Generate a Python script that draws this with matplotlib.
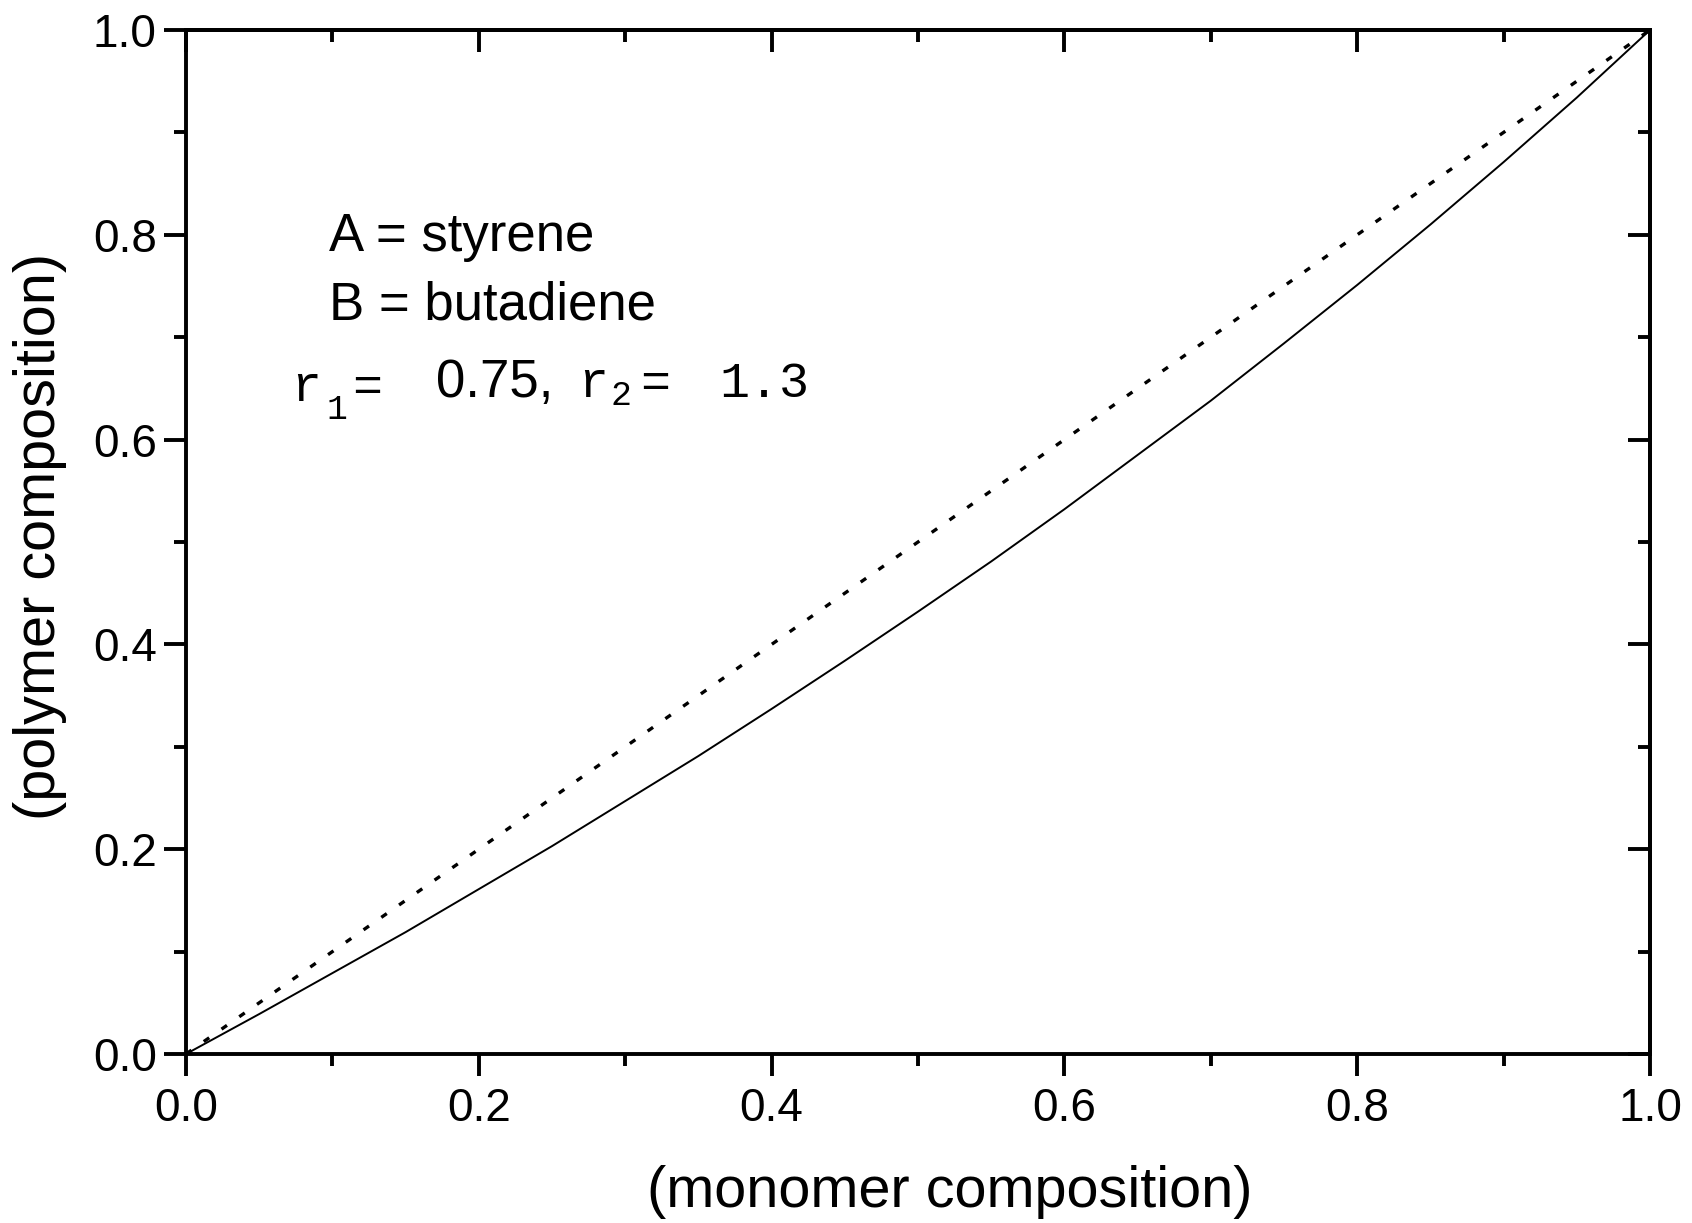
import numpy as np
import matplotlib
matplotlib.use("Agg")
import matplotlib.pyplot as plt

# values
monomer = [0.0, 0.05, 0.1, 0.15, 0.2, 0.25, 0.3, 0.35, 0.4, 0.45, 0.5,
           0.55, 0.6, 0.65, 0.7, 0.75, 0.8, 0.85, 0.9, 0.95, 1.0]
polymer = [0.0, 0.039, 0.079, 0.119, 0.161, 0.203, 0.247, 0.291, 0.337, 0.384, 0.432,
           0.481, 0.532, 0.585, 0.638, 0.694, 0.751, 0.810, 0.871, 0.934, 1.0]
diag_x = [0.0, 1.0]
diag_y = [0.0, 1.0]

W, H = 1692, 1223
plt.rcParams['font.family'] = ['Liberation Sans', 'DejaVu Sans']

fig = plt.figure(figsize=(W / 100, H / 100), dpi=100)
ax = fig.add_axes([186 / W, 1 - 1054 / H, 1464 / W, 1024 / H])

ax.plot(diag_x, diag_y, color="k", lw=2.4, dashes=(2.0, 4.5), dash_capstyle="butt")
ax.plot(monomer, polymer, color="k", lw=1.4)

ax.set_xlim(0, 1)
ax.set_ylim(0, 1)
ax.set_xticks(np.arange(0, 1.01, 0.2))
ax.set_yticks(np.arange(0, 1.01, 0.2))
ax.set_xticks(np.arange(0.1, 1.0, 0.2), minor=True)
ax.set_yticks(np.arange(0.1, 1.0, 0.2), minor=True)
ax.xaxis.set_major_formatter(plt.FormatStrFormatter("%.1f"))
ax.yaxis.set_major_formatter(plt.FormatStrFormatter("%.1f"))

lw = 2.8
for s in ax.spines.values():
    s.set_linewidth(lw)
ax.tick_params(which="major", direction="out", length=16, width=lw, labelsize=33)
ax.tick_params(which="minor", direction="out", length=8.6, width=lw)
ax.tick_params(axis="x", which="major", pad=8)
ax.tick_params(axis="y", which="major", pad=5)

for sec in (ax.secondary_xaxis("top"), ax.secondary_yaxis("right")):
    sec.set_ticks(np.arange(0, 1.01, 0.2))
    sec.set_ticks(np.arange(0.1, 1.0, 0.2), minor=True)
    sec.tick_params(which="major", direction="in", length=16, width=lw,
                    labeltop=False, labelright=False, labelbottom=False, labelleft=False)
    sec.tick_params(which="minor", direction="in", length=8.6, width=lw)
    for s in sec.spines.values():
        s.set_linewidth(lw)

ax.set_xlabel("(monomer composition)", fontsize=41.5)
ax.set_ylabel("(polymer composition)", fontsize=41.5)
ax.xaxis.set_label_coords(0.522, -0.108)
ax.yaxis.set_label_coords(-0.081, 0.505)


def ftext(x, y, s, **kw):
    fig.text(x / W, 1 - y / H, s, ha="left", va="baseline", **kw)


ftext(329, 251, "A = styrene", fontsize=38)
ftext(329, 320, "B = butadiene", fontsize=38)
mono = dict(family="Liberation Mono", fontsize=36)
sub = dict(family="Liberation Mono", fontsize=25)
ftext(291, 401, "r", **mono)
ftext(326, 419, "1", **sub)
ftext(352, 401, "=", **mono)
ftext(436, 397, "0.75,", fontsize=38)
ftext(578, 397, "r", **mono)
ftext(610, 405, "2", **sub)
ftext(640, 397, "=", **mono)
ftext(719, 397, "1.3", **mono)

fig.savefig("out.png", dpi=100)
